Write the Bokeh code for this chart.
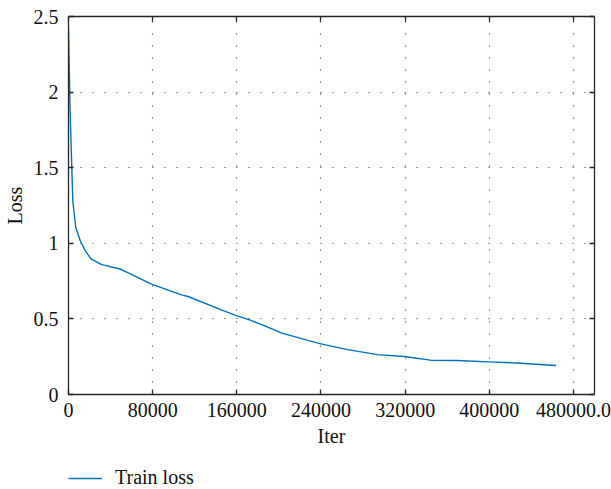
from bokeh.plotting import figure
from bokeh.layouts import column
from bokeh.models import (FixedTicker, LinearAxis, Legend, LegendItem, Range1d)
from bokeh.embed import file_html
from bokeh.resources import INLINE

iters = [0, 1500, 4100, 6900, 11000, 16000, 21400, 31600, 48900, 56800, 78900,
         107300, 113700, 145300, 159500, 172100, 195800, 202100, 225800, 240000,
         265300, 293700, 319000, 344200, 369500, 399500, 429500, 463600]
loss = [2.41, 1.88, 1.28, 1.105, 1.02, 0.95, 0.897, 0.859, 0.83, 0.804, 0.73,
        0.659, 0.648, 0.56, 0.522, 0.494, 0.428, 0.408, 0.361, 0.335,
        0.297, 0.264, 0.251, 0.227, 0.225, 0.216, 0.207, 0.192]

x_ticks = [0, 80000, 160000, 240000, 320000, 400000, 480000]
x_tick_labels = ["0", "80000", "160000", "240000", "320000", "400000", "480000.0"]
y_ticks = [0, 0.5, 1, 1.5, 2, 2.5]
y_tick_labels = ["0", "0.5", "1", "1.5", "2", "2.5"]

FONT = "Liberation Serif"
FS = "20px"
LINE_COLOR = "#0072BD"

p = figure(width=611, height=455, output_backend="svg", toolbar_location=None,
           x_range=Range1d(0, 500000), y_range=Range1d(0, 2.5),
           min_border_top=16, min_border_right=17, min_border_bottom=61,
           min_border_left=10)
p.outline_line_color = None
p.background_fill_color = "white"

line = p.line(iters, loss, line_color=LINE_COLOR, line_width=1.4)

def style_axis(ax, ticks, labels, show_labels=True):
    ax.ticker = FixedTicker(ticks=ticks)
    ax.major_label_overrides = {t: l for t, l in zip(ticks, labels)}
    ax.major_tick_in = 5
    ax.major_tick_out = 0
    ax.minor_tick_in = 0
    ax.minor_tick_out = 0
    ax.axis_line_color = "#262626"
    ax.axis_line_width = 1.3
    ax.major_tick_line_color = "#262626"
    ax.major_tick_line_width = 1.3
    ax.major_label_text_font = FONT
    ax.major_label_text_font_size = FS
    ax.major_label_text_color = "#111111"
    ax.axis_label_text_font = FONT
    ax.axis_label_text_font_size = FS
    ax.axis_label_text_font_style = "normal"
    ax.axis_label_text_color = "#111111"
    if not show_labels:
        ax.major_label_text_font_size = "0px"
        ax.major_label_text_alpha = 0

xa = p.xaxis[0]
style_axis(xa, x_ticks, x_tick_labels)
xa.axis_label = "Iter"
xa.major_label_standoff = 8
xa.axis_label_standoff = 5

ya = p.yaxis[0]
style_axis(ya, y_ticks, y_tick_labels)
ya.axis_label = "Loss"
ya.major_label_standoff = 10
ya.axis_label_standoff = 5

top = LinearAxis()
style_axis(top, x_ticks, x_tick_labels, show_labels=False)
top.major_label_standoff = 0
p.add_layout(top, "above")

right = LinearAxis()
style_axis(right, y_ticks, y_tick_labels, show_labels=False)
right.major_label_standoff = 0
p.add_layout(right, "right")

for g, t in ((p.xgrid[0], x_ticks), (p.ygrid[0], y_ticks)):
    g.ticker = FixedTicker(ticks=t)
    g.grid_line_color = "#333333"
    g.grid_line_dash = "1 11"
    g.grid_line_width = 1.2

# legend strip below the chart
pl = figure(width=611, height=34, output_backend="svg", toolbar_location=None,
            x_range=Range1d(0, 500000), y_range=Range1d(100, 101),
            x_axis_type=None, y_axis_type=None,
            min_border_top=0, min_border_right=0, min_border_bottom=0,
            min_border_left=67)
pl.outline_line_color = None
pl.grid.visible = False
lline = pl.line(iters, loss, line_color=LINE_COLOR, line_width=1.4)
legend = Legend(items=[LegendItem(label="Train loss", renderers=[lline])],
                location=(0, 0), orientation="horizontal",
                padding=0, margin=0, spacing=0,
                glyph_width=34, glyph_height=20, label_height=20,
                label_standoff=13,
                label_text_font=FONT, label_text_font_size=FS,
                label_text_color="#111111",
                border_line_color=None, background_fill_alpha=0)
pl.add_layout(legend, "center")

layout = column(p, pl, spacing=0)
open("out.html", "w").write(file_html(layout, INLINE))
